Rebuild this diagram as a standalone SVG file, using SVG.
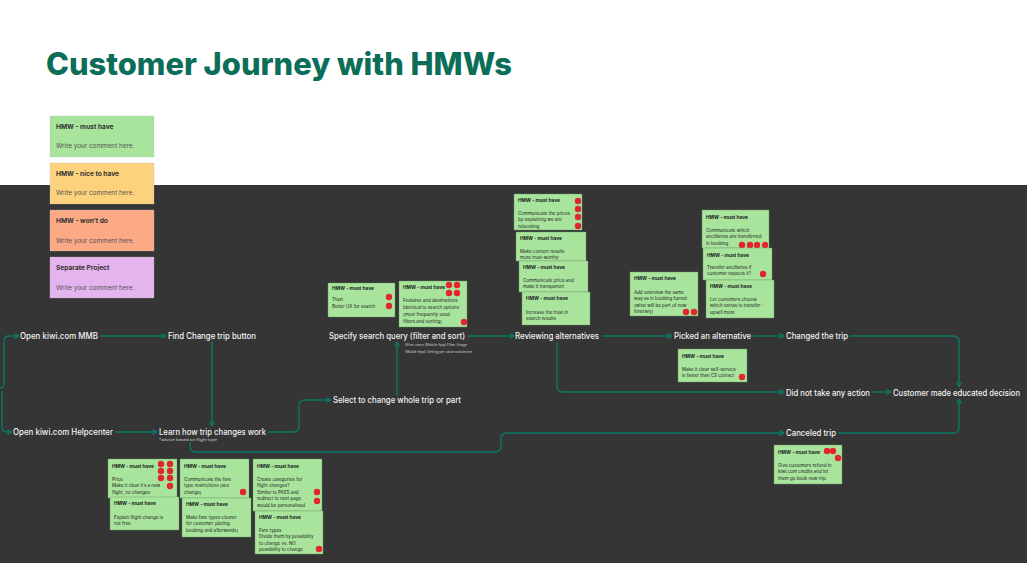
<svg xmlns="http://www.w3.org/2000/svg" width="1027" height="563" viewBox="0 0 1027 563">
<style>
.title{font-family:Inter,"Liberation Sans",sans-serif;font-weight:800;font-size:31px;fill:#0b6e58}
.lg{stroke:#bdbdbd;stroke-width:0.6;stroke-dasharray:1 1}
.lh{font-family:Inter,"Liberation Sans",sans-serif;font-weight:700;font-size:6.6px;fill:#333}
.lb{font-family:Inter,"Liberation Sans",sans-serif;font-size:6.4px;fill:#555}
.note{fill:#a8e49c;stroke:#6f9a66;stroke-width:0.4}
.h{font-family:Inter,"Liberation Sans",sans-serif;font-weight:700;font-size:4.8px;fill:#1c1c1c}
.b{font-family:Inter,"Liberation Sans",sans-serif;font-size:4.5px;fill:#1c1c1c}
.dot{fill:#e3252d}
.lbl{font-family:Inter,"Liberation Sans",sans-serif;font-weight:500;font-size:8.6px;fill:#f2f2f2}
.tiny{font-family:Inter,"Liberation Sans",sans-serif;font-size:3.6px;fill:#cfcfcf}
.conn path{fill:none;stroke:#0b7a64;stroke-width:1.3;marker-end:url(#arr)}
</style>
<defs>
<marker id="arr" viewBox="0 0 6 6" refX="5.6" refY="3" markerWidth="6" markerHeight="6" orient="auto" markerUnits="userSpaceOnUse">
<path d="M1,0.6 L5.6,3 L1,5.4" fill="none" stroke="#0b7a64" stroke-width="1.2"/>
</marker>
</defs>
<rect x="0" y="0" width="1027" height="563" fill="#ffffff"/>
<rect x="0" y="185" width="1027" height="378" fill="#353535"/>
<text class="title" x="46" y="75" textLength="466" lengthAdjust="spacingAndGlyphs">Customer Journey with HMWs</text>

<g id="legend">
<g id="legend-must"><rect class="lg" x="50" y="116" width="104" height="41" fill="#a8e49c"/><text class="lh" x="56" y="129">HMW - must have</text><text class="lb" x="56" y="148">Write your comment here.</text></g>
<g id="legend-nice"><rect class="lg" x="50" y="163" width="104" height="41" fill="#fdd27c"/><text class="lh" x="56" y="176">HMW - nice to have</text><text class="lb" x="56" y="195">Write your comment here.</text></g>
<g id="legend-wont"><rect class="lg" x="50" y="210" width="104" height="41" fill="#fca985"/><text class="lh" x="56" y="223">HMW - won’t do</text><text class="lb" x="56" y="243">Write your comment here.</text></g>
<g id="legend-separate"><rect class="lg" x="50" y="257" width="104" height="41" fill="#e4b4ee"/><text class="lh" x="56" y="270">Separate Project</text><text class="lb" x="56" y="290">Write your comment here.</text></g>
</g>

<g class="conn" id="connectors">
<path d="M0,388 Q4,388 4,384 V341 Q4,336 9,336 H19"/>
<path d="M2,391 V427 Q2,432 7,432 H12"/>
<path d="M100,336 H166"/>
<path d="M212,341 V426"/>
<path d="M115,432 H157"/>
<path d="M268,432 H293 Q299,432 299,426 V406 Q299,400 305,400 H331"/>
<path d="M397,396 V342"/>
<path d="M467,336 H514"/>
<path d="M557,342 V386 Q557,392 563,392 H784"/>
<path d="M602,336 H672"/>
<path d="M753,336 H784"/>
<path d="M850,336 H953 Q959,336 959,342 V387"/>
<path d="M872,392 H891"/>
<path d="M190,442 V446 Q190,452 196,452 H495 Q501,452 501,446 V439 Q501,433 507,433 H784"/>
<path d="M838,433 H953 Q959,433 959,427 V399"/>
</g>

<g id="n-mmb"><text class="lbl" x="20" y="339" textLength="78" lengthAdjust="spacingAndGlyphs">Open kiwi.com MMB</text></g>
<g id="n-find"><text class="lbl" x="168" y="339" textLength="88" lengthAdjust="spacingAndGlyphs">Find Change trip button</text></g>
<g id="n-help"><text class="lbl" x="13" y="435" textLength="100" lengthAdjust="spacingAndGlyphs">Open kiwi.com Helpcenter</text></g>
<g id="n-learn"><text class="lbl" x="159" y="435" textLength="107" lengthAdjust="spacingAndGlyphs">Learn how trip changes work</text><text class="tiny" x="159" y="440.5" textLength="58" lengthAdjust="spacingAndGlyphs">*advice based on flight type</text></g>
<g id="n-select"><text class="lbl" x="333" y="403" textLength="128" lengthAdjust="spacingAndGlyphs">Select to change whole trip or part</text></g>
<g id="n-specify"><text class="lbl" x="329" y="339" textLength="136" lengthAdjust="spacingAndGlyphs">Specify search query (filter and sort)</text><text class="tiny" x="405" y="345.5" textLength="62" lengthAdjust="spacingAndGlyphs">What users (Mobile App) Filter Usage</text><text class="tiny" x="405" y="352.5" textLength="67" lengthAdjust="spacingAndGlyphs">(Mobile App): Getting per value and device</text></g>
<g id="n-review"><text class="lbl" x="515" y="339" textLength="84" lengthAdjust="spacingAndGlyphs">Reviewing alternatives</text></g>
<g id="n-picked"><text class="lbl" x="674" y="339" textLength="77" lengthAdjust="spacingAndGlyphs">Picked an alternative</text></g>
<g id="n-changed"><text class="lbl" x="786" y="339" textLength="62" lengthAdjust="spacingAndGlyphs">Changed the trip</text></g>
<g id="n-noaction"><text class="lbl" x="786" y="396" textLength="84" lengthAdjust="spacingAndGlyphs">Did not take any action</text></g>
<g id="n-decision"><text class="lbl" x="893" y="396" textLength="127" lengthAdjust="spacingAndGlyphs">Customer made educated decision</text></g>
<g id="n-canceled"><text class="lbl" x="786" y="436" textLength="50" lengthAdjust="spacingAndGlyphs">Canceled trip</text></g>

<g id="hmw-trust"><rect class="note" x="328" y="283" width="67" height="34"/><text class="h" x="332" y="290">HMW - must have</text><text class="b" x="332" y="301">Trust</text><text class="b" x="332" y="308">Better UX for search</text><circle class="dot" cx="389" cy="297" r="3.2"/><circle class="dot" cx="389" cy="306" r="3.2"/></g>
<g id="hmw-features"><rect class="note" x="399" y="281" width="68" height="46"/><text class="h" x="403" y="289">HMW - must have</text><text class="b" x="403" y="301.5">Features and destinations</text><text class="b" x="403" y="308.5">Identical to search options</text><text class="b" x="403" y="315.5">(most frequently used</text><text class="b" x="403" y="322.5">filters and sorting)</text><circle class="dot" cx="449" cy="285" r="3.2"/><circle class="dot" cx="457" cy="285" r="3.2"/><circle class="dot" cx="449" cy="293" r="3.2"/><circle class="dot" cx="457" cy="293" r="3.2"/><circle class="dot" cx="464" cy="322" r="3.2"/></g>

<g id="hmw-prices"><rect class="note" x="514" y="194" width="68" height="36"/><text class="h" x="518" y="202">HMW - must have</text><text class="b" x="518" y="214.5">Communicate the prices</text><text class="b" x="518" y="221">by explaining we are</text><text class="b" x="518" y="227.5">rebooking</text><circle class="dot" cx="578" cy="201" r="3.2"/><circle class="dot" cx="578" cy="209" r="3.2"/><circle class="dot" cx="578" cy="217" r="3.2"/><circle class="dot" cx="578" cy="226" r="3.2"/></g>
<g id="hmw-content"><rect class="note" x="516" y="232" width="70" height="29"/><text class="h" x="520" y="240">HMW - must have</text><text class="b" x="520" y="252.5">Make content results</text><text class="b" x="520" y="258.5">more trust-worthy</text></g>
<g id="hmw-communicate"><rect class="note" x="519" y="261" width="69" height="31"/><text class="h" x="523" y="269">HMW - must have</text><text class="b" x="523" y="281.5">Communicate price and</text><text class="b" x="523" y="287.5">make it transparent</text></g>
<g id="hmw-increase"><rect class="note" x="522" y="292" width="68" height="33"/><text class="h" x="526" y="300">HMW - must have</text><text class="b" x="526" y="313.5">Increase the trust in</text><text class="b" x="526" y="319.5">search results</text></g>

<g id="hmw-ancillaries"><rect class="note" x="702" y="210" width="67" height="38"/><text class="h" x="706" y="219">HMW - must have</text><text class="b" x="706" y="231.5">Communicate which</text><text class="b" x="706" y="238">ancilliaries are transferred</text><text class="b" x="706" y="244.5">in booking</text><circle class="dot" cx="742" cy="245" r="3.2"/><circle class="dot" cx="750" cy="245" r="3.2"/><circle class="dot" cx="757" cy="245" r="3.2"/><circle class="dot" cx="765" cy="245" r="3.2"/></g>
<g id="hmw-transfer"><rect class="note" x="703" y="248" width="69" height="32"/><text class="h" x="707" y="257">HMW - must have</text><text class="b" x="707" y="268.5">Transfer ancillaries if</text><text class="b" x="707" y="275">customer expects it?</text><circle class="dot" cx="763" cy="274" r="3.2"/></g>
<g id="hmw-extras"><rect class="note" x="706" y="280" width="68" height="38"/><text class="h" x="710" y="288">HMW - must have</text><text class="b" x="710" y="300.5">Let customers choose</text><text class="b" x="710" y="307">which extras to transfer -</text><text class="b" x="710" y="313.5">upsell more</text></g>
<g id="hmw-overview"><rect class="note" x="630" y="272" width="68" height="44"/><text class="h" x="634" y="280">HMW - must have</text><text class="b" x="634" y="293.5">Add overview the same</text><text class="b" x="634" y="300">way as in booking funnel</text><text class="b" x="634" y="306.5">(what will be part of new</text><text class="b" x="634" y="313">itinerary)</text><circle class="dot" cx="686" cy="312" r="3.2"/><circle class="dot" cx="694" cy="312" r="3.2"/></g>

<g id="hmw-selfservice"><rect class="note" x="678" y="349" width="69" height="33"/><text class="h" x="682" y="358">HMW - must have</text><text class="b" x="682" y="370.5">Make it clear self-service</text><text class="b" x="682" y="376.5">is faster than CS contact</text><circle class="dot" cx="742" cy="377" r="3.2"/></g>

<g id="hmw-price"><rect class="note" x="108" y="459" width="69" height="39"/><text class="h" x="112" y="468">HMW - must have</text><text class="b" x="112" y="480.5">Price</text><text class="b" x="112" y="487">Make it clear it’s a new</text><text class="b" x="112" y="493.5">flight, no changes</text><circle class="dot" cx="161" cy="464" r="3.2"/><circle class="dot" cx="170" cy="464" r="3.2"/><circle class="dot" cx="161" cy="471" r="3.2"/><circle class="dot" cx="170" cy="471" r="3.2"/><circle class="dot" cx="161" cy="478" r="3.2"/><circle class="dot" cx="170" cy="478" r="3.2"/><circle class="dot" cx="170" cy="486" r="3.2"/></g>
<g id="hmw-notfree"><rect class="note" x="110" y="497" width="69" height="33"/><text class="h" x="114" y="505">HMW - must have</text><text class="b" x="114" y="518.5">Explain flight change is</text><text class="b" x="114" y="524.5">not free</text></g>
<g id="hmw-fare"><rect class="note" x="180" y="459" width="69" height="39"/><text class="h" x="184" y="468">HMW - must have</text><text class="b" x="184" y="480.5">Communicate the fare</text><text class="b" x="184" y="487">type restrictions (see</text><text class="b" x="184" y="493.5">change)</text><circle class="dot" cx="243" cy="492" r="3.2"/></g>
<g id="hmw-faretypes"><rect class="note" x="182" y="498" width="69" height="39"/><text class="h" x="186" y="506">HMW - must have</text><text class="b" x="186" y="518.5">Make fare types clearer</text><text class="b" x="186" y="525">for customer (during</text><text class="b" x="186" y="531.5">booking and afterwards)</text></g>
<g id="hmw-categories"><rect class="note" x="253" y="459" width="69" height="52"/><text class="h" x="257" y="468">HMW - must have</text><text class="b" x="257" y="480.5">Create categories for</text><text class="b" x="257" y="487">flight changes?</text><text class="b" x="257" y="493.5">Similar to PASS and</text><text class="b" x="257" y="500">redirect to next page</text><text class="b" x="257" y="506.5">would be personalised</text><circle class="dot" cx="317" cy="492" r="3.2"/><circle class="dot" cx="317" cy="501" r="3.2"/></g>
<g id="hmw-divide"><rect class="note" x="255" y="511" width="68" height="43"/><text class="h" x="259" y="519">HMW - must have</text><text class="b" x="259" y="531.5">Fare types</text><text class="b" x="259" y="538">Divide them by possibility</text><text class="b" x="259" y="544.5">to change vs. NO</text><text class="b" x="259" y="551">possibility to change</text><circle class="dot" cx="319" cy="549" r="3.2"/></g>

<g id="hmw-refund"><rect class="note" x="774" y="445" width="68" height="39"/><text class="h" x="778" y="454">HMW - must have</text><text class="b" x="778" y="466.5">Give customers refund in</text><text class="b" x="778" y="473">kiwi.com credits and let</text><text class="b" x="778" y="479.5">them go book new trip.</text><circle class="dot" cx="827" cy="451" r="3.2"/><circle class="dot" cx="833" cy="451" r="3.2"/><circle class="dot" cx="838" cy="458" r="3.2"/></g>
</svg>
